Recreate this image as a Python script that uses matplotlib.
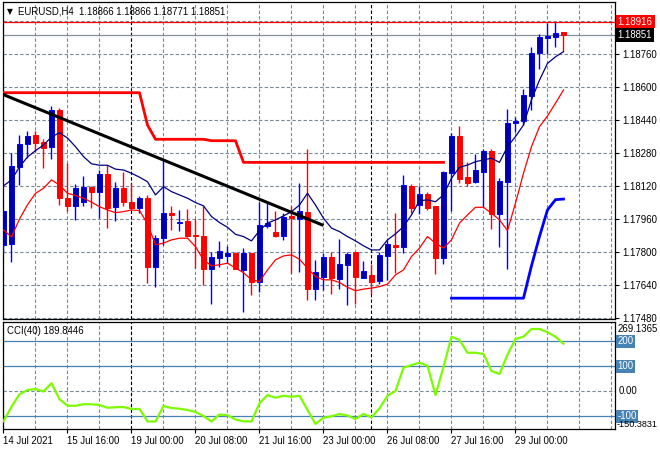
import numpy as np
import matplotlib.pyplot as plt

# EURUSD H4, bar by bar (index 0 = 14 Jul 08:00)
opens = [1.17833, 1.17836, 1.18212, 1.18321, 1.18364, 1.18332, 1.18309, 1.18487, 1.18059, 1.18022,
         1.18042, 1.18114, 1.18091, 1.18177, 1.18015, 1.18109, 1.18041, 1.18013, 1.18060, 1.17723,
         1.17865, 1.17989, 1.17938, 1.17949, 1.17881, 1.17878, 1.17718, 1.17771, 1.17781, 1.17794,
         1.17711, 1.17795, 1.17654, 1.17925, 1.17896, 1.17878, 1.17973, 1.17958, 1.17993, 1.17617,
         1.17677, 1.17774, 1.17669, 1.17733, 1.17797, 1.17673, 1.17688, 1.17658, 1.17781, 1.17833,
         1.17824, 1.18119, 1.18027, 1.18080, 1.18022, 1.17771, 1.18183, 1.18361, 1.18161, 1.18139,
         1.18188, 1.18287, 1.17981, 1.18139, 1.18423, 1.18434, 1.18556, 1.18762, 1.18838, 1.18842,
         1.18866]
highs = [1.17995, 1.18280, 1.18366, 1.18387, 1.18387, 1.18345, 1.18506, 1.18497, 1.18229, 1.18127,
         1.18167, 1.18120, 1.18196, 1.18219, 1.18138, 1.18187, 1.18135, 1.18070, 1.18075, 1.17881,
         1.18248, 1.18022, 1.18002, 1.18006, 1.17956, 1.18022, 1.17800, 1.17853, 1.17828, 1.17797,
         1.17816, 1.17795, 1.18042, 1.18042, 1.17997, 1.17986, 1.18019, 1.18132, 1.18299, 1.17760,
         1.17795, 1.17798, 1.17860, 1.17798, 1.17797, 1.17755, 1.17740, 1.17798, 1.17857, 1.17986,
         1.18170, 1.18128, 1.18119, 1.18091, 1.18022, 1.18193, 1.18374, 1.18409, 1.18236, 1.18274,
         1.18298, 1.18298, 1.18156, 1.18492, 1.18455, 1.18589, 1.18794, 1.18854, 1.18910, 1.18916,
         1.18866]
lows = [1.17794, 1.17751, 1.18125, 1.18253, 1.18283, 1.18207, 1.18251, 1.18027, 1.17999, 1.17951,
        1.18022, 1.18013, 1.17963, 1.17916, 1.17948, 1.18022, 1.18002, 1.17989, 1.17647, 1.17630,
        1.17833, 1.17905, 1.17902, 1.17873, 1.17719, 1.17640, 1.17547, 1.17727, 1.17747, 1.17715,
        1.17508, 1.17590, 1.17606, 1.17913, 1.17873, 1.17857, 1.17695, 1.17702, 1.17566, 1.17566,
        1.17614, 1.17595, 1.17620, 1.17540, 1.17546, 1.17673, 1.17595, 1.17641, 1.17663, 1.17695,
        1.17795, 1.17986, 1.17981, 1.18002, 1.17692, 1.17739, 1.17997, 1.18132, 1.18119, 1.18135,
        1.18017, 1.17910, 1.17824, 1.17715, 1.18382, 1.18414, 1.18487, 1.18687, 1.18757, 1.18794,
        1.18771]
closes = [1.17995, 1.18216, 1.18322, 1.18361, 1.18328, 1.18304, 1.18487, 1.18059, 1.18023, 1.18107,
          1.18112, 1.18090, 1.18177, 1.18013, 1.18109, 1.18042, 1.18013, 1.18060, 1.17727, 1.17865,
          1.17986, 1.17979, 1.17944, 1.17878, 1.17875, 1.17718, 1.17773, 1.17802, 1.17794, 1.17718,
          1.17794, 1.17654, 1.17929, 1.17938, 1.17878, 1.17970, 1.17962, 1.17996, 1.17617, 1.17701,
          1.17774, 1.17673, 1.17740, 1.17790, 1.17677, 1.17704, 1.17654, 1.17784, 1.17836, 1.17824,
          1.18122, 1.18010, 1.18080, 1.18010, 1.17771, 1.18188, 1.18361, 1.18151, 1.18135, 1.18196,
          1.18287, 1.17981, 1.18143, 1.18423, 1.18434, 1.18560, 1.18765, 1.18840, 1.18847, 1.18860,
          1.18851]

ma_fast = [1.18119, 1.18148, 1.18211, 1.18259, 1.18290, 1.18317, 1.18356, 1.18377, 1.18351, 1.18309,
           1.18261, 1.18226, 1.18219, 1.18219, 1.18200, 1.18196, 1.18180, 1.18161, 1.18139, 1.18075,
           1.18115, 1.18091, 1.18075, 1.18059, 1.18038, 1.18022, 1.17970, 1.17941, 1.17918, 1.17884,
           1.17873, 1.17852, 1.17902, 1.17938, 1.17954, 1.17973, 1.17994, 1.18026, 1.18083, 1.18026,
           1.17962, 1.17914, 1.17897, 1.17873, 1.17852, 1.17828, 1.17808, 1.17808, 1.17857, 1.17886,
           1.17921, 1.17978, 1.18047, 1.18051, 1.18042, 1.18075, 1.18156, 1.18209, 1.18220, 1.18236,
           1.18245, 1.18253, 1.18233, 1.18309, 1.18358, 1.18414, 1.18536, 1.18632, 1.18713, 1.18745,
           1.18770]
ma_slow = [1.17905, 1.17871, 1.17958, 1.18027, 1.18083, 1.18107, 1.18148, 1.18123, 1.18083, 1.18072,
           1.18059, 1.18040, 1.18018, 1.18002, 1.17989, 1.17994, 1.18002, 1.17999, 1.17935, 1.17833,
           1.17841, 1.17857, 1.17865, 1.17865, 1.17824, 1.17760, 1.17731, 1.17736, 1.17744, 1.17720,
           1.17698, 1.17663, 1.17655, 1.17711, 1.17760, 1.17779, 1.17784, 1.17763, 1.17720, 1.17679,
           1.17663, 1.17663, 1.17650, 1.17627, 1.17610, 1.17618, 1.17623, 1.17630, 1.17642, 1.17687,
           1.17711, 1.17776, 1.17817, 1.17873, 1.17841, 1.17817, 1.17857, 1.17938, 1.17978, 1.18015,
           1.18015, 1.17986, 1.17954, 1.17902, 1.18035, 1.18180, 1.18309, 1.18406, 1.18458, 1.18520,
           1.18584]

# stepped stop lines (bar index, price)
stop_red_k = list(range(0, 56))
stop_red = [1.18571] * 18 + [1.18414] + [1.18345] * 7 + [1.18338] * 4 + [1.18233] * 26
stop_blue_k = list(range(56, 71))
stop_blue = [1.17574] * 10 + [1.17731, 1.17873, 1.18002, 1.18052, 1.18055]

# trend line anchors
trend_k = [-0.1, 40]
trend_p = [1.18563, 1.17927]

cci = [-120, -62, -12, 5, 9, -1, 32, -32, -58, -58, -52, -52, -55, -66, -64, -63, -71, -71,
       -121, -121, -59, -67, -70, -75, -83, -99, -121, -93, -96, -113, -120, -121, -48, -15,
       -26, -18, -22, -18, -75, -131, -106, -100, -91, -97, -111, -91, -104, -68, -18, 1,
       94, 105, 114, 102, -15, 97, 218, 205, 154, 154, 149, 81, 69, 146, 209, 218, 249, 249,
       236, 218, 190]

time_k = [0, 8, 16, 24, 32, 40, 48, 56, 64]
time_labels = ['14 Jul 2021', '15 Jul 16:00', '19 Jul 00:00', '20 Jul 08:00', '21 Jul 16:00',
               '23 Jul 00:00', '26 Jul 08:00', '27 Jul 16:00', '29 Jul 00:00']
week_k = [16, 46]
price_ticks = [1.17480, 1.17640, 1.17800, 1.17960, 1.18120, 1.18280, 1.18440, 1.18600, 1.18760]
hi_line = 1.18916
bid = 1.18851

plt.rcParams['font.family'] = ['Liberation Sans', 'DejaVu Sans']
FS = 6.9
GRID = '#778899'

W, H = 660, 450
def box(l, t, r, b):
    return [l / W, 1 - b / H, (r - l) / W, (b - t) / H]

fig = plt.figure(figsize=(6.6, 4.5), dpi=100)
ax = fig.add_axes(box(2.5, 2, 615, 319))
ax2 = fig.add_axes(box(2.5, 322, 615, 429), sharex=ax)

x = np.arange(len(closes))
o, h, l, c = map(np.array, (opens, highs, lows, closes))
up = c >= o

# grid
for a in (ax, ax2):
    for k in range(0, 80, 4):
        a.axvline(k, color=GRID, lw=0.8, dashes=(3, 2), zorder=0)
    for k in week_k:
        a.axvline(k, color='black', lw=0.8, dashes=(3, 2), zorder=1)
for p in price_ticks + [1.18920]:
    ax.axhline(p, color=GRID, lw=0.8, dashes=(3, 2), zorder=0)

# candles
ax.vlines(x[up], l[up], h[up], color='#0000FF', lw=1, zorder=3)
ax.vlines(x[~up], l[~up], h[~up], color='#FF0000', lw=1, zorder=3)
ax.bar(x[up], c[up] - o[up], bottom=o[up], width=0.6, color='#0000A8',
       edgecolor='#0000FF', lw=0.7, zorder=4)
ax.bar(x[~up], c[~up] - o[~up], bottom=o[~up], width=0.6, color='#FF0000',
       edgecolor='#FF0000', lw=0.7, zorder=4)

# indicators
ax.plot(x, ma_fast, color='#000080', lw=0.9, zorder=5)
ax.plot(x, ma_slow, color='#FF0000', lw=0.9, zorder=5)
ax.plot(stop_red_k, stop_red, color='#FF0000', lw=2, zorder=5)
ax.plot(stop_blue_k, stop_blue, color='#0000FF', lw=2, zorder=5)
ax.plot(trend_k, trend_p, color='black', lw=2.2, zorder=5, solid_capstyle='butt')
ax.axhline(hi_line, color='#FF0000', lw=0.9, zorder=2)
ax.axhline(bid, color='#8090A0', lw=0.9, zorder=2)

ax.set_xlim(-0.125, 76.44)
ax.set_ylim(1.17473, 1.19011)

ax.yaxis.tick_right()
ax.set_yticks(price_ticks)
ax.set_yticklabels(['%.5f' % p for p in price_ticks])
ax.tick_params(axis='y', length=3, width=0.8, pad=2, labelsize=FS)
ax.tick_params(axis='x', bottom=False, labelbottom=False)

ya = ax.get_yaxis_transform()
ax.text(1.0045, hi_line, '%.5f' % hi_line, transform=ya, color='white', fontsize=FS,
        va='center', ha='left', bbox=dict(facecolor='#FF0000', edgecolor='none', pad=1.4))
ax.text(1.0045, bid, '%.5f' % bid, transform=ya, color='white', fontsize=FS,
        va='center', ha='left', bbox=dict(facecolor='black', edgecolor='none', pad=1.4))

ax.text(0.0075, 0.971, '\u25bc', transform=ax.transAxes, fontsize=5.5, va='center',
        family=['DejaVu Sans'])
ax.text(0.025, 0.971, 'EURUSD,H4  %.5f %.5f %.5f %.5f' % (opens[-1], highs[-1], lows[-1], closes[-1]),
        transform=ax.transAxes, fontsize=FS, va='center')

# CCI panel
ax2.plot(x, cci, color='#7CFC00', lw=1.6, zorder=5)
for lv in (200, 100, -100):
    ax2.axhline(lv, color='#4682B4', lw=0.9, zorder=1)
ax2.axhline(0, color=GRID, lw=0.8, dashes=(3, 2), zorder=0)
ax2.set_ylim(-151, 277)
ax2.set_yticks([])
ax2.set_xticks(time_k)
ax2.set_xticklabels(time_labels, ha='left')
ax2.tick_params(axis='x', length=3, width=0.8, pad=2, labelsize=FS)
ax2.text(0.007, 0.915, 'CCI(40) %.4f' % 189.8446, transform=ax2.transAxes, fontsize=FS, va='center')

ya2 = ax2.get_yaxis_transform()
ax2.text(1.004, 269.1365, '269.1365', transform=ya2, fontsize=FS, va='top', ha='left')
for lv in (200, 100, -100):
    ax2.text(1.0045, lv, str(lv), transform=ya2, fontsize=FS, va='center', ha='left', color='white',
             bbox=dict(facecolor='#4682B4', edgecolor='none', pad=1.0))
ax2.text(1.006, 0, '0.00', transform=ya2, fontsize=FS, va='center', ha='left')
ax2.text(1.0025, -150.3831, '-150.3831', transform=ya2, fontsize=6.6, va='bottom', ha='left')

for a in (ax, ax2):
    for s in a.spines.values():
        s.set_linewidth(0.9)
        s.set_color('black')

fig.savefig('out.png', dpi=100, facecolor='white')
